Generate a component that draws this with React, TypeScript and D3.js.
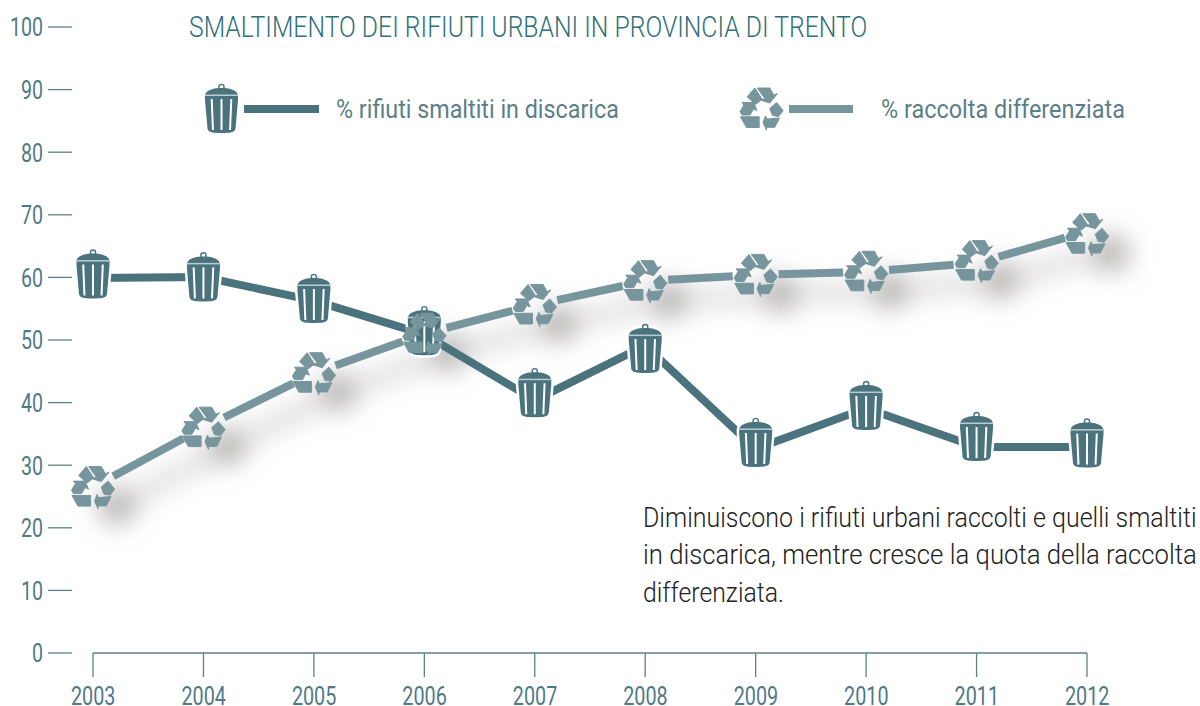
import React from "react";
import * as d3 from "d3";

const years = [2003, 2004, 2005, 2006, 2007, 2008, 2009, 2010, 2011, 2012];
const discarica = [59.9, 60.06, 56.3, 50.9, 40.4, 49.1, 32.6, 39.1, 32.9, 32.9];
const discaricaIcon = [60.45, 60, 56.55, 51.4, 41.5, 48.55, 33.55, 39.45, 34.5, 33.45];
const differenziata = [26.5, 36, 44.7, 51, 55.6, 59.4, 60.4, 60.9, 62.3, 67.3];
const differenziataIcon = [26.5, 36, 44.7, 51, 55.6, 59.4, 60.4, 60.9, 62.6, 66.9];
const yTicks = [0, 10, 20, 30, 40, 50, 60, 70, 80, 90, 100];
const title = "SMALTIMENTO DEI RIFIUTI URBANI IN PROVINCIA DI TRENTO";
const legendA = "% rifiuti smaltiti in discarica";
const legendB = "% raccolta differenziata";
const note = [
  "Diminuiscono i rifiuti urbani raccolti e quelli smaltiti",
  "in discarica, mentre cresce la quota della raccolta",
  "differenziata.",
];

const FONT = "Roboto, sans-serif";
const DARK = "#4a737d";
const LIGHT = "#76959d";
const AXIS = "#5d8089";
const LABEL = "#4f7a85";

const x = d3.scaleLinear().domain([2003, 2012]).range([93, 1087]);
const y = d3.scaleLinear().domain([0, 100]).range([653, 27]);

function segments(vals: number[], gap: number) {
  const out: [number, number, number, number][] = [];
  for (let i = 0; i < vals.length - 1; i++) {
    const x0 = x(years[i]), y0 = y(vals[i]), x1 = x(years[i + 1]), y1 = y(vals[i + 1]);
    const l = Math.hypot(x1 - x0, y1 - y0);
    const ux = (x1 - x0) / l, uy = (y1 - y0) / l;
    out.push([x0 + ux * gap, y0 + uy * gap, x1 - ux * gap, y1 - uy * gap]);
  }
  return out;
}

const BIN_BODY = "M-16.5,-13 C-16.5,-19 -8,-20.5 -3,-21 L3,-21 C8,-20.5 16.5,-19 16.5,-13 L16.5,-9 L14,19.5 C13.5,23.5 8,24 0,24 C-8,24 -13.5,23.5 -14,19.5 L-16.5,-9 Z";
const SLOTS = [-9.5, 0, 9.5];
const RECYCLE_PIECES = [
  "-14.3,-11.7 -6.7,-20.5 0.7,-9.3 -6,-4",
  "-4.3,-20.5 8.3,-20.5 12.3,-13.3 16,-15 8.3,-5.5 -0.7,-8.3 3.3,-10",
  "8.3,0 15,-6 21.7,2 17,8 11,7",
  "5,21.7 1.5,14 4,7.5 5.5,10.5 18,9.5 13.3,18.8 5,18.8",
  "-21,8.3 -2.3,8.3 -2.3,19 -15,19",
  "-21.5,3 -17.5,-3.5 -19.5,-6 -8,-6 -4.5,2 -8,0.5 -11.5,6.5 -19.5,6.5",
];

const ctx = document.createElement("canvas").getContext("2d");
function fitScale(s: string, size: number, weight: number, w: number) {
  if (!ctx) return 1;
  ctx.font = `${weight} ${size}px Roboto, sans-serif`;
  return w / ctx.measureText(s).width;
}

function Bin({ cx, cy }: { cx: number; cy: number }) {
  return (
    <g transform={`translate(${cx},${cy})`}>
      <path d={BIN_BODY} fill="#fff" stroke="#fff" strokeWidth={5} />
      <circle cx={0} cy={-22} r={2.6} fill="none" stroke={DARK} strokeWidth={1.4} />
      <path d={BIN_BODY} fill={DARK} />
      <rect x={-16.5} y={-14.5} width={33} height={1.5} fill="#b9cdd1" />
      {SLOTS.map((s) => (
        <line key={s} x1={s * 1.03} y1={-10} x2={s * 0.9} y2={21} stroke="#fff" strokeWidth={2} />
      ))}
    </g>
  );
}

function Recycle({ cx, cy }: { cx: number; cy: number }) {
  return (
    <g transform={`translate(${cx},${cy})`} fill={LIGHT} stroke={LIGHT} strokeWidth={1} strokeLinejoin="round">
      {RECYCLE_PIECES.map((p) => (
        <polygon key={p} points={p} />
      ))}
    </g>
  );
}

function Txt(p: { x: number; y: number; w: number; size: number; fill: string; weight?: number; anchor?: string; children: string }) {
  const weight = p.weight ?? 400;
  const sx = fitScale(p.children, p.size, weight, p.w);
  return (
    <text
      transform={`translate(${p.x},${p.y}) scale(${sx},1)`}
      fontFamily={FONT}
      fontWeight={weight}
      fontSize={p.size}
      fill={p.fill}
      textAnchor={p.anchor ?? "start"}
    >
      {p.children}
    </text>
  );
}

export default function App() {
  const segA = segments(discarica, 0);
  const segB = segments(differenziata, 23);
  const segShadow = segments(differenziata, 0);
  return (
    <svg width={1200} height={706} style={{ position: "absolute", left: 0, top: 0, display: "block", background: "#fff" }}>
      <defs>
        <filter id="soft" x="-20%" y="-50%" width="140%" height="200%">
          <feGaussianBlur stdDeviation={13} />
        </filter>
      </defs>

      {yTicks.map((t) => (
        <g key={t}>
          <line x1={48} x2={72} y1={y(t)} y2={y(t)} stroke={AXIS} strokeWidth={1.3} />
          <Txt x={43} y={y(t) + 9.3} size={25} fill={LABEL} anchor="end" w={t === 100 ? 33 : t === 0 ? 11 : 22}>{String(t)}</Txt>
        </g>
      ))}

      <line x1={x(2003)} x2={x(2012)} y1={653} y2={653} stroke={AXIS} strokeWidth={1.3} />
      {years.map((yr) => (
        <g key={yr}>
          <line x1={x(yr)} x2={x(yr)} y1={653} y2={677} stroke={AXIS} strokeWidth={1.3} />
          <Txt x={x(yr) - 22} y={704.5} size={25} fill={LABEL} w={44.5}>{String(yr)}</Txt>
        </g>
      ))}

      <Txt x={189} y={37} size={29} weight={300} fill="#2f6f79" w={679}>{title}</Txt>

      <Bin cx={221.5} cy={109} />
      <rect x={244} y={105} width={75} height={8} fill={DARK} />
      <Txt x={336} y={118} size={25} fill="#5c7f87" w={283}>{legendA}</Txt>
      <Recycle cx={761.5} cy={108.5} />
      <rect x={789} y={105} width={64} height={8} fill={LIGHT} />
      <Txt x={881} y={118} size={25} fill="#5c7f87" w={244}>{legendB}</Txt>

      <g filter="url(#soft)" transform="translate(24,19)">
        {segShadow.map((s, i) => (
          <line key={i} x1={s[0]} y1={s[1]} x2={s[2]} y2={s[3]} stroke="#d6d3d3" strokeWidth={14} />
        ))}
        {years.map((yr, i) => (
          <circle key={yr} cx={x(yr)} cy={y(differenziataIcon[i])} r={18} fill="#b3afaf" />
        ))}
      </g>

      {segA.map((s, i) => (
        <line key={i} x1={s[0]} y1={s[1]} x2={s[2]} y2={s[3]} stroke={DARK} strokeWidth={8} />
      ))}
      {years.map((yr, i) => (
        <Bin key={yr} cx={x(yr)} cy={y(discaricaIcon[i])} />
      ))}
      {segB.map((s, i) => (
        <line key={i} x1={s[0]} y1={s[1]} x2={s[2]} y2={s[3]} stroke={LIGHT} strokeWidth={8} />
      ))}
      {years.map((yr, i) => (
        <Recycle key={yr} cx={x(yr)} cy={y(differenziataIcon[i])} />
      ))}

      <Txt x={643} y={527} size={27} weight={300} fill="#222" w={554}>{note[0]}</Txt>
      <Txt x={643} y={564} size={27} weight={300} fill="#222" w={554}>{note[1]}</Txt>
      <Txt x={643} y={602} size={27} weight={300} fill="#222" w={141}>{note[2]}</Txt>
    </svg>
  );
}
